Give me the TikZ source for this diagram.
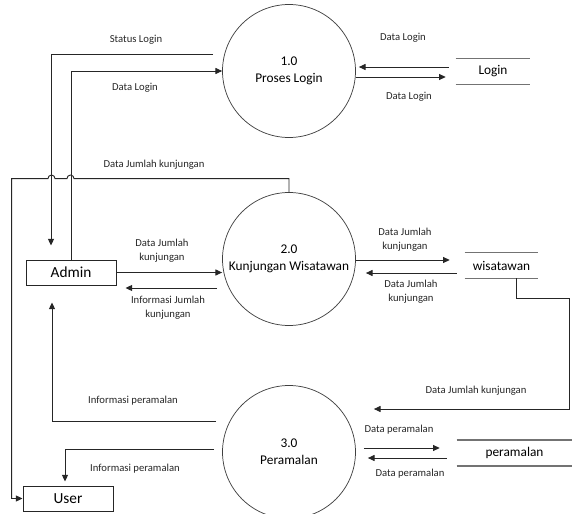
\documentclass[tikz,border=0pt]{standalone}
\usepackage{fontspec}
\setmainfont{Carlito}
\usetikzlibrary{arrows.meta,calc}

\tikzset{
	proses/.style={circle,draw=black!75,line width=0.55pt,inner sep=0pt,minimum size=99.75pt,align=center,font=\fontsize{10}{12.75}\selectfont},
	entitas/.style={rectangle,draw=black!85,line width=0.7pt,minimum width=67.5pt,minimum height=18.75pt,inner sep=0pt,font=\fontsize{11.5}{13}\selectfont},
	simpan/.style={minimum height=19pt,inner sep=0pt,font=\fontsize{10}{12}\selectfont},
	garis/.style={draw=black!55,line width=0.9pt},
	alir/.style={-{Triangle[length=5pt,width=4.5pt]},draw=black!85,line width=0.7pt},
	ket/.style={font=\fontsize{8}{10.5}\selectfont,align=center,text=black!85}
}

\begin{document}
\begin{tikzpicture}[x=0.75pt,y=-0.75pt]
		\useasboundingbox (0,0) rectangle (572,514);
		% proses
		\node[proses] (p1) at (289,71) {1.0\\Proses Login};
		\node[proses] (p2) at (289,259) {2.0\\Kunjungan Wisatawan};
		\node[proses] (p3) at (289,452) {3.0\\Peramalan};
		% entitas
		\node[entitas] (admin) at (71,272.5) {Admin};
		\node[entitas] (user) at (68,498.5) {User};
		% data store
		\node[simpan,minimum width=55.5pt] (login) at (493,71.5) {Login};
		\node[simpan,minimum width=54.75pt] (wisatawan) at (501.5,265.5) {wisatawan};
		\node[simpan,minimum width=86.25pt] (peramalan) at (514.5,453) {peramalan};
		\draw[garis] (login.north west) -- (login.north east) (login.south west) -- (login.south east);
		\draw[garis] (wisatawan.north west) -- (wisatawan.north east) (wisatawan.south west) -- (wisatawan.south east);
		\draw[garis] (peramalan.north west) -- (peramalan.north east) (peramalan.south west) -- (peramalan.south east);

		% login
		\draw[alir] ($(p1.west)+(-9,-17)$) -| ($(admin.north)+(-20,-14)$);
		\node[ket] at (136,40) {Status Login};
		\draw[alir] (admin.north) |- (p1.west);
		\node[ket] at (135,88) {Data Login};
		\draw[alir] ($(login.west)+(-7,-4.5)$) -- ($(p1.east)+(3,-4)$);
		\node[ket] at (403,38) {Data Login};
		\draw[alir] ($(p1.east)+(0,6)$) -- ($(login.west)+(-10,5.5)$);
		\node[ket] at (409,97) {Data Login};

		% kunjungan
		\draw[alir] (p2.north) |- ($(admin.north)+(3,-81)$) arc[start angle=0,end angle=-180,radius=3.5] -- ($(admin.north)+(-16,-81)$) arc[start angle=0,end angle=-180,radius=3.5] -| ($(user.west)+(-11,0)$) -- (user.west);
		\node[ket] at (154,165) {Data Jumlah kunjungan};
		\draw[alir] (admin.east) -- (admin.east -| p2.west);
		\node[ket] at (162,251) {Data Jumlah\\kunjungan};
		\draw[alir] ($(p2.west)+(-5,29)$) -- ($(admin.east)+(9,15.5)$);
		\node[ket] at (168,308) {Informasi Jumlah\\kunjungan};
		\draw[alir] ($(p2.east)+(0,1)$) -- ($(wisatawan.west)+(-15,-5.5)$);
		\node[ket] at (405,240) {Data Jumlah\\kunjungan};
		\draw[alir] ($(wisatawan.west)+(-8,7.5)$) -- ($(p2.east)+(10,14)$);
		\node[ket] at (411,292) {Data Jumlah\\kunjungan};
		\draw[alir] ($(wisatawan.south)+(14.5,0)$) -- ++(0,20) -- ++(53,0) |- ($(p3.east)+(18,-43)$);
		\node[ket] at (476,391) {Data Jumlah kunjungan};

		% peramalan
		\draw[alir] ($(p3.west)+(-6,-31)$) -| ($(admin.south)+(-19,17)$);
		\node[ket] at (133,401) {Informasi peramalan};
		\draw[alir] ($(p3.west)+(-8,-3)$) -| ($(user.north)+(-3,-4)$);
		\node[ket] at (135,469) {Informasi peramalan};
		\draw[alir] ($(p3.east)+(8,-4)$) -- ($(peramalan.west)+(-17,-5)$);
		\node[ket] at (399,430) {Data peramalan};
		\draw[alir] ($(peramalan.west)+(-10,5)$) -- ($(p3.east)+(12,6)$);
		\node[ket] at (410,474) {Data peramalan};
\end{tikzpicture}
\end{document}
